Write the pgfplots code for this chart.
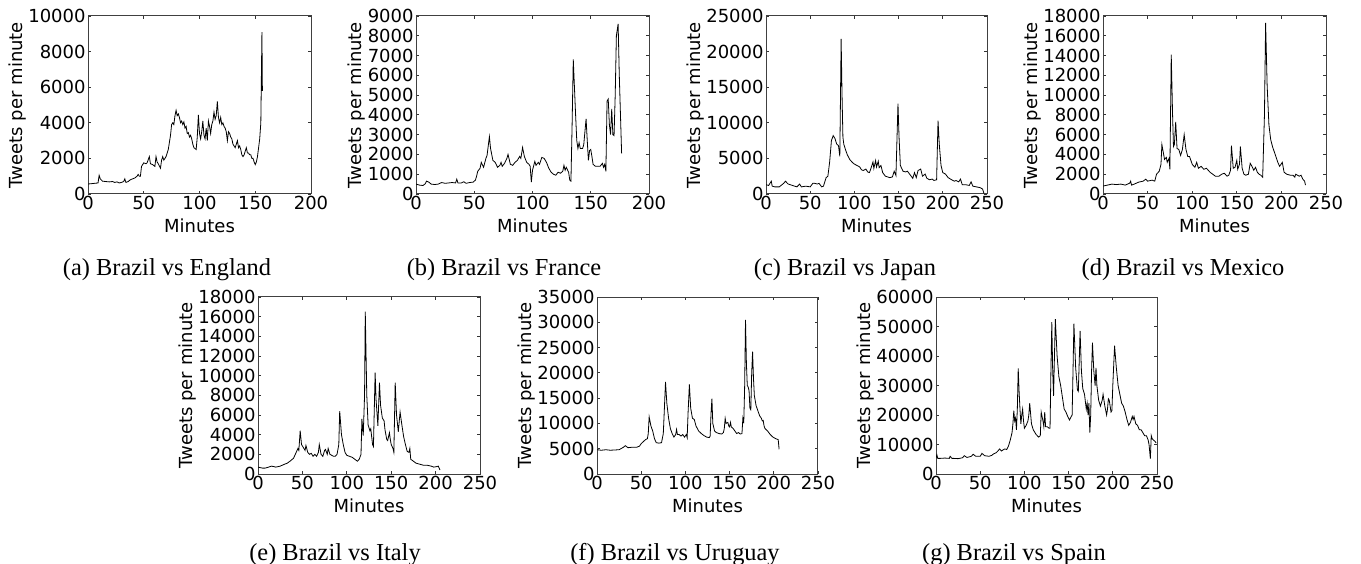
\documentclass[border=0pt]{standalone}
\usepackage{pgfplots}
\pgfplotsset{compat=1.18}
\usepackage{fontspec}
\setmainfont{Liberation Serif}
\newfontfamily\dejavu{DejaVu Sans}
\pgfplotsset{
  tw/.style={
    scale only axis, anchor=south west,
    xmin=0, ymin=0,
    axis line style={black!75, line width=0.5pt},
    tick style={black!80, line width=0.4pt},
    major tick length=1.5pt,
    tick align=inside,
    xlabel={Minutes}, ylabel={Tweets per minute},
    ylabel style={yshift=-3.5pt},
    scaled ticks=false,
    /pgf/number format/1000 sep={},
    /pgf/number format/assume math mode=true,
    tick label style={font=\dejavu\fontsize{9}{10}\selectfont, inner sep=1pt},
    label style={font=\dejavu\fontsize{9}{10}\selectfont},
    cycle list={{black, line width=0.5pt, mark=none}},
  },
}
\begin{document}
\begin{tikzpicture}
\useasboundingbox (0,0) rectangle (680.5pt,281.5pt);
% (a) England
\begin{axis}[tw, at={(44pt,184.5pt)}, width=111.5pt, height=89pt,
  xmax=200, ymax=10000, xtick={0,50,...,200}, ytick={0,2000,...,10000}]
\addplot coordinates {(0,560)(3,580)(6,600)(9,620)(10,1050)(11,850)(13,720)(16,700)(19,680)(22,700)(24,650)(26,680)(28,620)(30,650)(32,700)(33,850)(34,650)(36,700)(38,800)(40,850)(42,900)(44,1000)(45,1100)(46,1000)(47,1000)(48,1550)(50,1750)(52,1700)(53,1750)(55,2100)(56,1700)(58,1650)(60,1550)(61,2100)(62,1800)(63,1700)(65,1450)(66,1900)(67,2100)(68,1900)(70,2100)(72,2500)(73,2900)(74,3300)(75,3900)(76,4000)(77,3900)(78,4400)(79,4700)(80,4400)(81,4500)(82,4300)(83,4000)(84,4100)(85,3900)(86,4050)(87,3700)(88,3800)(89,3400)(90,3450)(91,3200)(92,3300)(93,3100)(94,2800)(95,2600)(96,2550)(97,2500)(98,3200)(99,4450)(100,3400)(101,3100)(102,3500)(103,4100)(104,3300)(105,3100)(106,3700)(107,3000)(108,4100)(109,3800)(110,3400)(111,3900)(112,4100)(113,4600)(114,4200)(115,4400)(116,5200)(117,4300)(118,4000)(119,4300)(120,3900)(121,4000)(122,3800)(123,3700)(124,3500)(125,3000)(126,3500)(127,3400)(128,3200)(129,3100)(130,2800)(131,2700)(132,2600)(133,2800)(134,3000)(135,2600)(136,2700)(137,2500)(138,2200)(139,2100)(140,2200)(141,2400)(142,2600)(143,2300)(144,2300)(145,2200)(146,2200)(147,2000)(148,2000)(149,1800)(150,1650)(151,1800)(152,2100)(153,2600)(154,3100)(155,4000)(156,9100)(156.4,5800)};
\end{axis}
% (b) France
\begin{axis}[tw, at={(208pt,184.5pt)}, width=116.5pt, height=89pt,
  xmax=200, ymax=9000, xtick={0,50,...,200}, ytick={0,1000,...,9000}]
\addplot coordinates {(0,500)(3,450)(6,430)(8,520)(9,650)(11,600)(13,500)(16,480)(19,500)(22,580)(25,540)(28,560)(31,580)(34,560)(35,750)(36,560)(39,560)(41,620)(43,540)(46,580)(49,600)(51,700)(52,900)(53,1150)(55,1300)(56,1600)(58,1350)(60,1800)(61,1950)(63,2900)(64,2300)(66,1700)(68,1600)(70,1350)(72,1450)(73,1600)(74,1400)(76,1550)(78,1800)(79,2000)(81,1500)(83,1450)(85,1600)(87,1700)(89,1900)(90,1800)(91.5,2350)(93,1900)(95,1600)(97,1500)(98,1400)(99,600)(100,1200)(102,1650)(103,1450)(105,1600)(106,1500)(108,1850)(110,1800)(112,1600)(114,1300)(116,1100)(118,1000)(120,950)(122,1100)(124,1050)(126,1150)(127,1450)(128,1200)(129,1350)(131,1100)(132,700)(133,650)(134,3500)(135,6800)(137,4000)(138,2700)(139,2300)(140,2600)(141,2300)(143,2300)(144,2500)(146,3800)(147,2700)(148,1700)(149,2200)(150,2250)(151,1900)(152,1500)(154,1400)(156,1400)(158,1400)(160,1550)(161,1350)(162,1500)(163,1150)(164,4700)(165,4800)(166,3500)(167,3000)(168,4300)(169,3000)(170,2950)(171,5000)(172,8000)(173.5,8600)(174.5,6000)(176.5,2050)};
\end{axis}
% (c) Japan
\begin{axis}[tw, at={(383pt,184.5pt)}, width=110.5pt, height=89pt,
  xmax=250, ymax=25000, xtick={0,50,...,250}, ytick={0,5000,...,25000}]
\addplot coordinates {(0,1300)(3,1200)(6,1800)(7,1100)(10,1000)(15,1000)(20,1500)(22,1800)(25,1400)(30,1200)(35,1000)(38,1400)(40,1000)(45,1100)(50,1000)(53,1500)(55,1500)(58,1400)(60,1500)(63,1000)(65,1100)(68,2300)(70,2500)(72,4500)(74,7500)(76,8200)(78,7800)(80,7000)(82,6800)(83.5,5300)(85,21800)(86,14000)(87,8000)(88,7000)(90,6200)(92,5500)(95,4800)(98,4400)(100,4200)(103,4000)(106,3800)(108,3400)(110,3300)(113,3500)(115,3100)(117,3000)(119,3700)(121,4500)(122,3600)(124,4700)(125,3800)(127,4600)(128,3700)(130,4000)(132,3000)(135,2500)(140,2300)(143,2400)(145,3200)(147,2600)(149.3,12700)(150.5,8000)(152,4000)(155,3200)(158,3100)(160,3200)(163,2700)(166,2200)(168,3000)(170,2300)(172,3300)(175,3500)(177,2500)(180,2800)(182,2200)(185,2000)(188,2100)(190,1900)(193,2000)(194.6,10300)(196,7000)(198,4000)(200,3000)(203,2800)(206,2300)(210,2000)(213,1800)(215,1900)(218,1700)(220,2100)(222,1300)(226,1300)(230,1200)(232,1700)(234,1100)(238,1000)(242,900)(245,700)(246.5,100)};
\end{axis}
% (d) Mexico
\begin{axis}[tw, at={(551.5pt,184.5pt)}, width=111.5pt, height=89pt,
  xmax=250, ymax=18000, xtick={0,50,...,250}, ytick={0,2000,...,18000}]
\addplot coordinates {(0,800)(5,900)(10,1000)(15,950)(20,1000)(25,900)(30,1100)(31,1300)(32,900)(35,1000)(40,1200)(45,1300)(48,1500)(50,1300)(55,1400)(58,1300)(60,2000)(63,2300)(65,3000)(66,5000)(68,4000)(69,3500)(71,3700)(72,3200)(74,3600)(75,2500)(76.5,14100)(78,8000)(79,4800)(80,5000)(81.5,7300)(83,4600)(85,4500)(87,3900)(89,4500)(91,6000)(93,4500)(95,3800)(97,3800)(100,3000)(103,2700)(105,3200)(107,2600)(110,2800)(113,2500)(116,2600)(118,2400)(120,2200)(123,2000)(126,1800)(130,1800)(133,2000)(136,2100)(139,1800)(141,1900)(143,2400)(144,4900)(146,2600)(148,2700)(150,3400)(151,2500)(153,3000)(154,4800)(156,2600)(158,2000)(160,1900)(163,2000)(165,3100)(167,2800)(169,2400)(171,2700)(173,2200)(175,2000)(177,1900)(179,1700)(181,8000)(182.3,17300)(184,11000)(186,7000)(188,5500)(190,4800)(193,4000)(196,3200)(198,2800)(201,3200)(203,2200)(206,2000)(210,1900)(213,1900)(215,1700)(216,2000)(218,1900)(220,1800)(222,1900)(224,1500)(226,1300)(227,900)};
\end{axis}
% (e) Italy
\begin{axis}[tw, at={(129pt,44.5pt)}, width=111pt, height=88.5pt,
  xmax=250, ymax=18000, xtick={0,50,...,250}, ytick={0,2000,...,18000}]
\addplot coordinates {(0,700)(5,600)(8,600)(12,700)(15,800)(18,750)(20,700)(25,800)(30,1000)(33,1100)(36,1300)(40,1600)(43,2200)(45,2600)(46,2400)(47.5,4400)(49,3000)(51,2700)(53,2400)(54,2900)(56,2200)(58,2000)(60,2100)(62,1800)(64,2000)(66,1800)(68,2200)(69,3000)(71,2000)(73,1800)(75,2400)(76,2500)(78,2000)(79,2600)(81,2000)(83,1900)(85,1800)(87,1800)(89,2000)(91,3000)(92,6400)(94,4000)(96,3000)(98,2200)(100,1900)(103,1800)(106,1700)(109,1500)(112,1300)(114,1500)(116,2000)(117,5600)(118.5,3900)(120,8000)(120.8,16500)(122.5,8000)(124,5000)(126,4400)(127,4600)(129,3000)(130,2800)(131.9,10300)(133,7500)(135,4900)(136.8,9300)(138,7000)(140,5700)(142,5400)(143,4500)(145,3500)(146,3400)(147,3800)(148,4200)(149,3500)(150,3000)(152,2600)(153,2200)(154.5,9300)(156,6000)(158,4300)(160,6300)(162,5000)(164,3800)(166,3000)(168,2300)(170,2200)(171,2600)(172,1500)(175,1300)(178,1100)(182,1000)(186,900)(190,900)(195,800)(198,700)(201,750)(203,800)(205,400)};
\end{axis}
% (f) Uruguay
\begin{axis}[tw, at={(298.5pt,44.5pt)}, width=110.5pt, height=88.5pt,
  xmax=250, ymax=35000, xtick={0,50,...,250}, ytick={0,5000,...,35000}]
\addplot coordinates {(0,4800)(5,4700)(10,4800)(15,4700)(20,4750)(25,4800)(30,5300)(32,5600)(35,5200)(40,5300)(45,5300)(48,5500)(50,6000)(53,6500)(55,6800)(57,7000)(58,8000)(59,11300)(61,9500)(63,8500)(65,7000)(67,6200)(70,6100)(73,6200)(75,8000)(76,12000)(77.5,18200)(79,14000)(81,11000)(83,9000)(85,8000)(87,7300)(89,7800)(90,8800)(91,7800)(93,7800)(95,7500)(97,7800)(99,7300)(101,7800)(102,7200)(103,12000)(104.5,17700)(106,13000)(108,11000)(110,10800)(112,9500)(115,8500)(118,8000)(121,7600)(124,7300)(127,7200)(128,7500)(129,12000)(130,14900)(131,10000)(133,8500)(135,8200)(138,8000)(141,7900)(143,8200)(144,9000)(145,11000)(146,10000)(148,10200)(149,9500)(150,9300)(151,10200)(152,9300)(154,9000)(156,8500)(158,8000)(160,8200)(162,7900)(164,8000)(165,11000)(166,10000)(167,17000)(168,30500)(169,22000)(170,17500)(171,17200)(172,16500)(173,13000)(174,12700)(175,20000)(176,24200)(177,19000)(178,15500)(179,14500)(180,13500)(182,12500)(184,11500)(186,11000)(187,10500)(188,10600)(189,9500)(190,9000)(193,8500)(196,7800)(199,7300)(202,7000)(205,6800)(206,4900)};
\end{axis}
% (g) Spain
\begin{axis}[tw, at={(468pt,44.5pt)}, width=110.5pt, height=88.5pt,
  xmax=250, ymax=60000, xtick={0,50,...,250}, ytick={0,10000,...,60000}]
\addplot coordinates {(0,5500)(1,6500)(2,5300)(5,5300)(10,5400)(15,5300)(16,6000)(18,5300)(20,5300)(25,5200)(30,5500)(32,6200)(35,5600)(40,6000)(42,6700)(45,6000)(50,6000)(52,7000)(55,6200)(60,6000)(63,6300)(65,6800)(68,7200)(70,7800)(72,8500)(74,7800)(76,8200)(78,8500)(80,8300)(82,9500)(84,11500)(86,14000)(87,17000)(88,21500)(89,18000)(90,19000)(91,15000)(92,22000)(93,35800)(94,28000)(95,22000)(96,17000)(97,20000)(98,22000)(99,18000)(100,15500)(102,16500)(104,18000)(105,20000)(106,24000)(108,17000)(110,15000)(113,13500)(116,12500)(118,13000)(119,21000)(121,18000)(122,16000)(123,21000)(124,16000)(126,16000)(128,15500)(129,15500)(130,35000)(131,51500)(132,35000)(133,26500)(134,40000)(135,52500)(137,40000)(139,33000)(141,30000)(143,26000)(145,22000)(147,21000)(149,19500)(151,18300)(153,19500)(154,20000)(155,35000)(156,51000)(158,36000)(160,28500)(161,28000)(162,38000)(163,48500)(164.5,35000)(166,29000)(168,27000)(170,22000)(171,24000)(172,20000)(173,24000)(174,14000)(175,20000)(176,35000)(177,44500)(178.5,35000)(180,30000)(181,36000)(182,30000)(184,25000)(186,23000)(188,25000)(189,27000)(191,23000)(193,20000)(194,22000)(195,25500)(196,25000)(198,21000)(199,21500)(200,30000)(202,43500)(204,36000)(206,30000)(208,27000)(210,24000)(212,23000)(214,21000)(216,18500)(218,16500)(220,17500)(222,19500)(223,18500)(224,19500)(226,17000)(228,16500)(230,15000)(232,15000)(234,14000)(236,13000)(238,13000)(240,11500)(241,10000)(242.5,5200)(243.5,13000)(244.5,12000)(246,11500)(248,11000)(249,10500)};
\end{axis}
% captions
\begin{scope}[every node/.style={font=\fontsize{12.2}{14}\selectfont, inner sep=0pt, anchor=base}]
\node at (83.5pt,143.5pt) {(a) Brazil vs England};
\node at (252pt,143.5pt) {(b) Brazil vs France};
\node at (422.5pt,143.5pt) {(c) Brazil vs Japan};
\node at (591.5pt,143.5pt) {(d) Brazil vs Mexico};
\node at (167.5pt,1.5pt) {(e) Brazil vs Italy};
\node at (337.5pt,1.5pt) {(f) Brazil vs Uruguay};
\node at (507pt,1.5pt) {(g) Brazil vs Spain};
\end{scope}
\end{tikzpicture}
\end{document}
